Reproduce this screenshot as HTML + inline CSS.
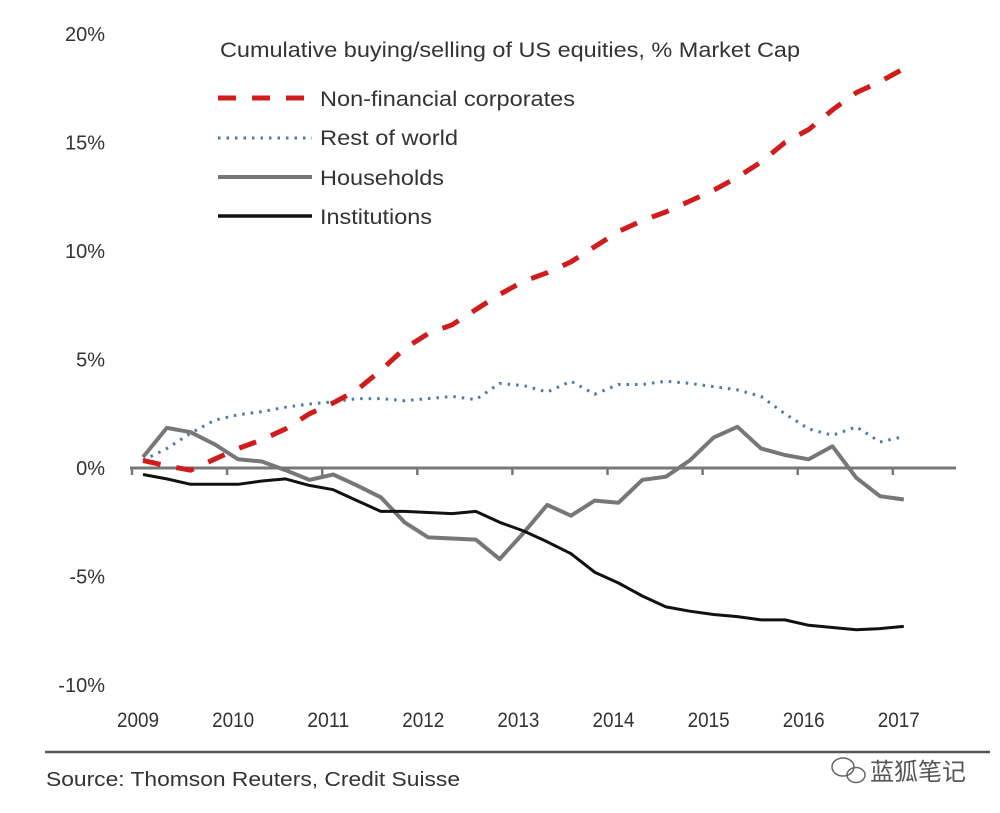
<!DOCTYPE html>
<html><head><meta charset="utf-8"><style>
body{margin:0;background:#fff;}
svg{display:block;font-family:"Liberation Sans Narrow","Liberation Sans","Noto Sans CJK SC",sans-serif;}
</style></head><body>
<svg id="chart" width="1000" height="813" viewBox="0 0 1000 813">
<g id="axes"></g><g id="series"></g>
<text x="220" y="57" font-size="21" fill="#333" textLength="580" lengthAdjust="spacingAndGlyphs">Cumulative buying/selling of US equities, % Market Cap</text>
<g>
<line x1="218" y1="98" x2="312" y2="98" stroke="#d01c1c" stroke-width="5" stroke-dasharray="18,16"/>
<text x="320" y="106" font-size="21" fill="#333" textLength="255" lengthAdjust="spacingAndGlyphs">Non-financial corporates</text>
<line x1="218" y1="138" x2="312" y2="138" stroke="#4a7aa8" stroke-width="3" stroke-dasharray="2.5,6"/>
<text x="320" y="145" font-size="21" fill="#333" textLength="138" lengthAdjust="spacingAndGlyphs">Rest of world</text>
<line x1="218" y1="177" x2="312" y2="177" stroke="#777" stroke-width="4"/>
<text x="320" y="185" font-size="21" fill="#333" textLength="124" lengthAdjust="spacingAndGlyphs">Households</text>
<line x1="218" y1="216" x2="312" y2="216" stroke="#111" stroke-width="3.5"/>
<text x="320" y="224" font-size="21" fill="#333" textLength="112" lengthAdjust="spacingAndGlyphs">Institutions</text>
</g>
<line x1="45" y1="752" x2="990" y2="752" stroke="#555" stroke-width="2.5"/>
<text x="46" y="786" font-size="20" fill="#333" textLength="414" lengthAdjust="spacingAndGlyphs">Source: Thomson Reuters, Credit Suisse</text>
<g fill="none" stroke="#666" stroke-width="1.5">
<ellipse cx="843" cy="767" rx="11" ry="9"/><ellipse cx="856" cy="775" rx="9" ry="7.5"/>
</g>
<text x="870" y="780" font-size="24" fill="#555" font-family="'Noto Sans CJK SC',sans-serif">蓝狐笔记</text>
</svg>
<script>
const years=["2009","2010","2011","2012","2013","2014","2015","2016","2017"];
const yTicks=[20,15,10,5,0,-5,-10];
const nonFinancial=[0.35,0.1,-0.1,0.4,0.9,1.3,1.8,2.5,3.0,3.6,4.5,5.5,6.2,6.6,7.3,8.0,8.6,9.0,9.5,10.2,10.9,11.4,11.8,12.3,12.8,13.4,14.1,15.0,15.6,16.5,17.3,17.8,18.4];
const restOfWorld=[0.35,0.9,1.6,2.2,2.45,2.6,2.8,2.95,3.05,3.2,3.2,3.1,3.2,3.3,3.15,3.9,3.8,3.5,4.0,3.4,3.85,3.85,4.0,3.9,3.75,3.6,3.3,2.5,1.8,1.5,1.9,1.2,1.45];
const households=[0.5,1.85,1.65,1.1,0.4,0.3,-0.1,-0.55,-0.3,-0.8,-1.35,-2.5,-3.2,-3.25,-3.3,-4.2,-3.0,-1.7,-2.2,-1.5,-1.6,-0.55,-0.4,0.35,1.4,1.9,0.9,0.6,0.4,1.0,-0.45,-1.3,-1.45];
const institutions=[-0.3,-0.5,-0.75,-0.75,-0.75,-0.6,-0.5,-0.8,-1.0,-1.5,-2.0,-2.0,-2.05,-2.1,-2.0,-2.5,-2.9,-3.4,-3.95,-4.8,-5.3,-5.9,-6.4,-6.6,-6.75,-6.85,-7.0,-7.0,-7.25,-7.35,-7.45,-7.4,-7.3];

const NS="http://www.w3.org/2000/svg";
const x0=132, yearW=95.1;
function xQ(i){return x0+yearW*(i/4)+11;}
function xY(k){return x0+yearW*k;}
function yV(v){return 468-v*21.7;}
const axes=document.getElementById('axes'), ser=document.getElementById('series');
function mk(tag,attrs,parent){const e=document.createElementNS(NS,tag);for(const k in attrs)e.setAttribute(k,attrs[k]);parent.appendChild(e);return e;}
yTicks.forEach(v=>{
  const t=mk('text',{x:105,y:yV(v)+7,'font-size':20,fill:'#333','text-anchor':'end'},axes);
  
  
  t.textContent=v+'%';
});
const zl=mk('line',{x1:130,y1:yV(0),x2:956,y2:yV(0),stroke:'#777','stroke-width':3},axes);


years.forEach((y,k)=>{
  const tk=mk('line',{x1:xY(k),y1:yV(0),x2:xY(k),y2:yV(0)+7,stroke:'#777','stroke-width':2.5},axes);
  
  
  const t=mk('text',{x:xY(k)+6,y:727,'font-size':21,fill:'#333','text-anchor':'middle',textLength:42,lengthAdjust:'spacingAndGlyphs'},axes);
  
  
  t.textContent=y;
});
function line(data,stroke,w,dash,name){
  const d=data.map((v,i)=>(i?'L':'M')+xQ(i).toFixed(1)+','+yV(v).toFixed(1)).join('');
  const p=mk('path',{d:d,fill:'none',stroke:stroke,'stroke-width':w,'stroke-linejoin':'round'},ser);
  if(dash)p.setAttribute('stroke-dasharray',dash);
  
  
}
line(restOfWorld,'#4a7aa8',3,'2.5,6','series-rest-of-world');
line(households,'#777',4,null,'series-households');
line(institutions,'#111',3,null,'series-institutions');
line(nonFinancial,'#d01c1c',5,'18,16','series-non-financial-corporates');
</script>
</body></html>
